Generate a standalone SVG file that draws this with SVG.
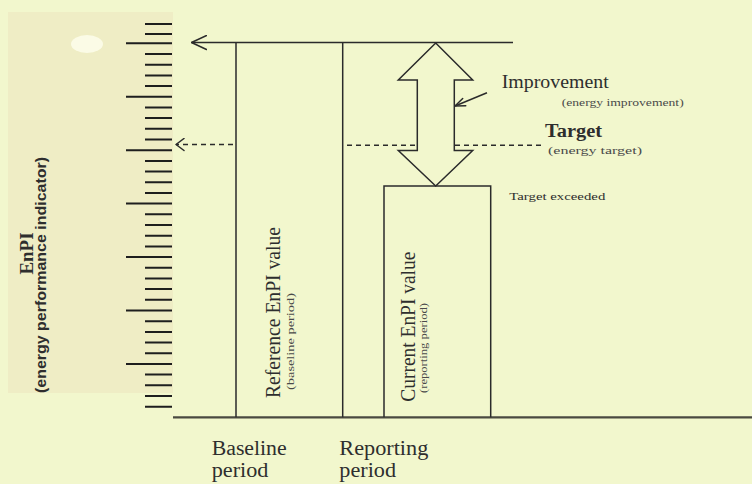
<svg xmlns="http://www.w3.org/2000/svg" width="752" height="484" viewBox="0 0 752 484">
  <defs>
    <style>
      .ln { fill: none; stroke: #2b2b2b; stroke-width: 1.5; }
      .base { fill: none; stroke: #4a4a40; stroke-width: 2.2; }
      .dash { fill: none; stroke: #2b2b2b; stroke-width: 1.4; stroke-dasharray: 5 4; }
      .tick { fill: none; stroke: #1e1e1e; stroke-width: 2; }
      .head { fill: none; stroke: #2b2b2b; stroke-width: 1.5; stroke-dasharray: none; stroke-linecap: round; stroke-linejoin: round; }
      .serif { font-family: "Liberation Serif", "DejaVu Serif", serif; fill: #2e2e2e; }
      .sans { font-family: "Liberation Sans", "DejaVu Sans", sans-serif; fill: #2e2e2e; }
      .small { font-size: 10px; fill: #4a4a4a; }
    </style>
    <marker id="chev" viewBox="0 0 16 16" refX="15" refY="8" markerWidth="16" markerHeight="16" markerUnits="userSpaceOnUse" orient="auto">
      <path class="head" d="M0,1 L15,8 L0,15"/>
    </marker>
    <marker id="chev-s" viewBox="0 0 10 14" refX="9" refY="7" markerWidth="10" markerHeight="14" markerUnits="userSpaceOnUse" orient="auto">
      <path class="head" d="M1,1 L9,7 L1,13"/>
    </marker>
    <marker id="chev-p" viewBox="0 0 12 10" refX="11" refY="5" markerWidth="12" markerHeight="10" markerUnits="userSpaceOnUse" orient="auto">
      <path class="head" d="M1,1 L11,5 L1,9"/>
    </marker>
  </defs>

  <!-- paper -->
  <rect x="0" y="0" width="752" height="484" fill="#f2f7cd"/>
  <rect x="8" y="12" width="165" height="381" fill="#efedc5"/>
  <ellipse cx="87" cy="44" rx="16" ry="9" fill="#fbfbe6"/>

  <!-- EnPI scale -->
  <g id="axis">
    <path class="tick" d="M145,24H172 M145,34H172 M126,43.3H172 M145,54H172 M145,64.7H172 M145,75.4H172 M145,86.1H172 M126,96.8H172 M145,107.4H172 M145,118.1H172 M145,128.8H172 M145,139.5H172 M126,150.2H172 M145,160.9H172 M145,171.6H172 M145,182.3H172 M145,192.9H172 M126,203.6H172 M145,214.3H172 M145,225H172 M145,235.7H172 M145,246.4H172 M126,257.1H172 M145,267.8H172 M145,278.4H172 M145,289.1H172 M145,299.8H172 M126,310.5H172 M145,321.2H172 M145,331.9H172 M145,342.6H172 M145,353.3H172 M126,363.9H172 M145,374.6H172 M145,385.3H172 M145,396H172 M145,406.7H172"/>
    <path class="base" d="M173,417.3H752"/>
    <text class="serif" font-weight="bold" font-size="19" text-anchor="middle" transform="translate(33,253.5) rotate(-90)" textLength="42" lengthAdjust="spacingAndGlyphs">EnPI</text>
    <text class="sans" font-weight="bold" font-size="15.5" text-anchor="middle" transform="translate(46,275) rotate(-90)" textLength="236" lengthAdjust="spacingAndGlyphs">(energy performance indicator)</text>
  </g>

  <!-- baseline period: reference value -->
  <g id="reference-value">
    <path class="ln" d="M236,42.5V417.3 M342.7,42.5V417.3"/>
    <text class="serif" font-size="20" text-anchor="middle" transform="translate(279.5,312.5) rotate(-90)" textLength="171" lengthAdjust="spacingAndGlyphs">Reference EnPI value</text>
    <text class="serif small" text-anchor="middle" transform="translate(294,341.5) rotate(-90)" textLength="97" lengthAdjust="spacingAndGlyphs">(baseline period)</text>
  </g>

  <!-- reporting period: current value -->
  <g id="current-value">
    <path class="ln" d="M384,417.3V186H490.7V417.3"/>
    <text class="serif" font-size="20" text-anchor="middle" transform="translate(414.5,326.7) rotate(-90)" textLength="150" lengthAdjust="spacingAndGlyphs">Current EnPI value</text>
    <text class="serif small" text-anchor="middle" transform="translate(426.5,348) rotate(-90)" textLength="90" lengthAdjust="spacingAndGlyphs">(reporting period)</text>
  </g>

  <!-- improvement double arrow -->
  <g id="improvement-arrow">
    <polygon class="ln" fill="#f2f7cd" points="435.7,43 472.7,80 454.3,80 454.3,150.5 472.7,150.5 435.7,186 398.3,150.5 417.3,150.5 417.3,80 398.3,80"/>
  </g>

  <!-- labels -->
  <g id="label-improvement">
    <text class="serif" font-size="18" x="501.7" y="87.5" textLength="107" lengthAdjust="spacingAndGlyphs">Improvement</text>
    <text class="serif small" x="561.7" y="105.5" textLength="122" lengthAdjust="spacingAndGlyphs">(energy improvement)</text>
  </g>
  <g id="label-target">
    <text class="serif" font-weight="bold" font-size="18" x="545" y="137.3" textLength="57" lengthAdjust="spacingAndGlyphs">Target</text>
    <text class="serif small" x="548" y="154.3" textLength="94" lengthAdjust="spacingAndGlyphs">(energy target)</text>
  </g>
  <g id="label-exceeded">
    <text class="serif" font-size="11" x="509.3" y="200" textLength="96" lengthAdjust="spacingAndGlyphs">Target exceeded</text>
  </g>
  <g id="label-baseline">
    <text class="serif" font-size="20" x="211.7" y="455" textLength="75" lengthAdjust="spacingAndGlyphs">Baseline</text>
    <text class="serif" font-size="20" x="211.7" y="476.5" textLength="56.7" lengthAdjust="spacingAndGlyphs">period</text>
  </g>
  <g id="label-reporting">
    <text class="serif" font-size="20" x="339.3" y="455" textLength="89" lengthAdjust="spacingAndGlyphs">Reporting</text>
    <text class="serif" font-size="20" x="339.3" y="476.5" textLength="56.7" lengthAdjust="spacingAndGlyphs">period</text>
  </g>

  <!-- connectors -->
  <g id="connectors">
    <path class="ln" d="M513,42.5H191.5" marker-end="url(#chev)"/>
    <path class="dash" d="M233,144.5H176" marker-end="url(#chev-s)"/>
    <path class="dash" d="M347,145.3H416.5 M455,145.3H545"/>
    <path class="ln" d="M487,92.7L455,106" marker-end="url(#chev-p)"/>
  </g>
</svg>
